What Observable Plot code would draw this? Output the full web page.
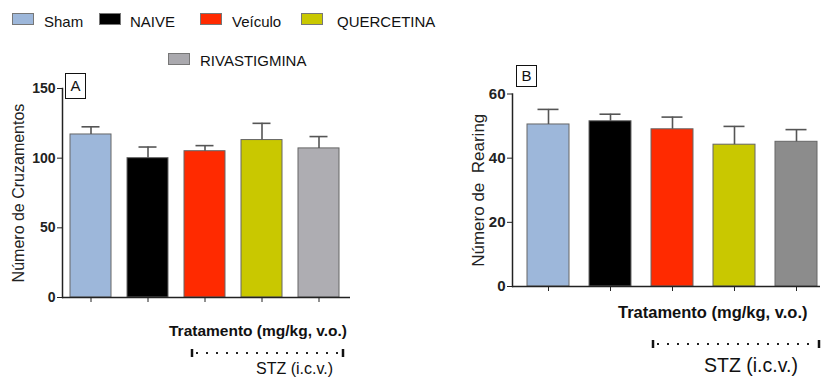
<!DOCTYPE html>
<html>
<head>
<meta charset="utf-8">
<script src="https://cdn.jsdelivr.net/npm/d3@7"></script>
<script src="https://cdn.jsdelivr.net/npm/@observablehq/plot@0.6"></script>
<style>
  html, body { margin: 0; padding: 0; background: #fff; }
  #root { position: relative; width: 824px; height: 380px; overflow: hidden; background: #fff;
          font-family: "Liberation Sans", Arial, Helvetica, sans-serif; color: #111; }
  .abs { position: absolute; }
  .sw { position: absolute; width: 20px; height: 10px; border: 1px solid #777; }
  .lg { position: absolute; font-size: 15px; line-height: 15px; white-space: nowrap; }
  .box { position: absolute; border: 1.5px solid #111; font-size: 15px; text-align: center; box-sizing: border-box; }
  .ann { position: absolute; white-space: nowrap; }
</style>
</head>
<body>
<div id="root"></div>
<script>
// ---- data ----
const categories = ["Sham", "NAIVE", "Veículo", "QUERCETINA", "RIVASTIGMINA"];
const crossMean = [117, 100, 105, 113, 107];
const crossErr = [5.5, 8, 4, 12, 8.5];
const rearMean = [50.5, 51.5, 49, 44.2, 45.1];
const rearErr = [4.7, 2.2, 3.8, 5.7, 3.8];
const colorsA = ["#9db7da", "#000000", "#ff2a00", "#c9c800", "#aeadb2"];
const colorsB = ["#9db7da", "#000000", "#ff2a00", "#c9c800", "#8c8c8c"];
const legendColors = ["#9db7da", "#000000", "#ff2a00", "#c9c800", "#aaa9ae"];
const ticksA = [0, 50, 100, 150];
const ticksB = [0, 20, 40, 60];

const dataA = categories.map((c, i) => ({cat: c, mean: crossMean[i], err: crossErr[i]}));
const dataB = categories.map((c, i) => ({cat: c, mean: rearMean[i], err: rearErr[i]}));

const root = document.getElementById("root");
const FONT = "'Liberation Sans', Arial, Helvetica, sans-serif";

function panel(data, opts) {
  return Plot.plot({
    width: opts.width, height: 380,
    marginLeft: opts.ml, marginRight: opts.mr, marginTop: opts.mt, marginBottom: opts.mb,
    style: {background: "transparent", fontFamily: FONT, color: "#222"},
    x: {domain: categories, range: opts.xrange, paddingInner: opts.pi, paddingOuter: 0},
    y: {domain: opts.ydomain},
    color: {domain: categories, range: opts.colors},
    marks: [
      Plot.barY(data, {x: "cat", y: "mean", fill: "cat", stroke: "#666", strokeWidth: 1}),
      Plot.ruleX(data, {x: "cat", y1: "mean", y2: d => d.mean + d.err, stroke: "#555", strokeWidth: 1.6}),
      Plot.tickY(data, {x: "cat", y: d => d.mean + d.err, insetLeft: opts.capInset, insetRight: opts.capInset, stroke: "#555", strokeWidth: 1.6}),
      Plot.axisX({tickSize: 5, tickFormat: () => "", label: null, color: "#222"}),
      Plot.axisY({ticks: opts.ticks, tickSize: 5, tickPadding: 2, label: null, fontSize: opts.tickFont, fontWeight: "bold", color: "#222"}),
      Plot.text([opts.ylabel], {text: d => d, frameAnchor: "left", dx: -opts.labelOff, rotate: -90, fontSize: opts.labelFont, textAnchor: "middle", lineAnchor: "middle", fill: "#222"}),
      Plot.ruleY([0], {stroke: "#222", strokeWidth: 1.5}),
      Plot.frame({anchor: "left", stroke: "#222", strokeWidth: 1.5})
    ]
  });
}

const A = panel(dataA, {
  width: 360, ml: 62, mr: 10, mt: 88, mb: 83,
  xrange: [69, 339], pi: 0.287, ydomain: [0, 150], ticks: ticksA,
  colors: colorsA, capInset: 11.5, tickFont: 14,
  ylabel: "Número de Cruzamentos", labelOff: 44, labelFont: 16
});
A.style.position = "absolute"; A.style.left = "0px"; A.style.top = "0px";
root.appendChild(A);

const B = panel(dataB, {
  width: 412, ml: 100, mr: 4, mt: 93.5, mb: 94,
  xrange: [114.7, 405], pi: 0.33, ydomain: [0, 60], ticks: ticksB,
  colors: colorsB, capInset: 10.5, tickFont: 15,
  ylabel: "Número de  Rearing", labelOff: 34, labelFont: 17
});
B.style.position = "absolute"; B.style.left = "412px"; B.style.top = "0px";
root.appendChild(B);

// ---- legend ----
const legendPos = [
  {sx: 12, sy: 13, tx: 44, ty: 14},
  {sx: 99, sy: 13, tx: 130, ty: 14},
  {sx: 200, sy: 13, tx: 232, ty: 14},
  {sx: 301, sy: 13, tx: 337, ty: 14},
  {sx: 168, sy: 53, tx: 200, ty: 53}
];
categories.forEach((c, i) => {
  const p = legendPos[i];
  const s = document.createElement("div");
  s.className = "sw"; s.style.left = p.sx + "px"; s.style.top = p.sy + "px";
  s.style.background = legendColors[i];
  root.appendChild(s);
  const t = document.createElement("div");
  t.className = "lg"; t.style.left = p.tx + "px"; t.style.top = p.ty + "px";
  t.textContent = c;
  root.appendChild(t);
});

// ---- panel letters ----
function box(letter, x, y, w, h) {
  const b = document.createElement("div");
  b.className = "box";
  b.style.left = x + "px"; b.style.top = y + "px"; b.style.width = w + "px"; b.style.height = h + "px";
  b.style.lineHeight = (h - 3) + "px";
  b.textContent = letter;
  root.appendChild(b);
}
box("A", 65, 73, 21, 26);
box("B", 516, 65, 21, 22);

// ---- bottom annotations ----
function ann(text, x, y, size, weight) {
  const d = document.createElement("div");
  d.className = "ann";
  d.style.left = x + "px"; d.style.top = y + "px";
  d.style.fontSize = size + "px"; d.style.fontWeight = weight;
  d.textContent = text;
  root.appendChild(d);
}
ann("Tratamento (mg/kg, v.o.)", 169, 322, 15.5, "bold");
ann("STZ (i.c.v.)", 256, 360, 16, "normal");
ann("Tratamento (mg/kg, v.o.)", 618, 303, 16.5, "bold");
ann("STZ (i.c.v.)", 704, 354, 19.5, "normal");

const svgNS = "http://www.w3.org/2000/svg";
const ov = document.createElementNS(svgNS, "svg");
ov.setAttribute("width", 824); ov.setAttribute("height", 380);
ov.style.position = "absolute"; ov.style.left = "0"; ov.style.top = "0";
function dotted(x1, x2, y) {
  const l = document.createElementNS(svgNS, "line");
  l.setAttribute("x1", x1 + 4); l.setAttribute("x2", x2 - 3);
  l.setAttribute("y1", y); l.setAttribute("y2", y);
  l.setAttribute("stroke", "#222"); l.setAttribute("stroke-width", 2);
  l.setAttribute("stroke-dasharray", "2 8");
  ov.appendChild(l);
  [x1, x2].forEach(x => {
    const c = document.createElementNS(svgNS, "line");
    c.setAttribute("x1", x); c.setAttribute("x2", x);
    c.setAttribute("y1", y - 4); c.setAttribute("y2", y + 4);
    c.setAttribute("stroke", "#111"); c.setAttribute("stroke-width", 2.5);
    ov.appendChild(c);
  });
}
dotted(192, 343, 353);
dotted(653, 819, 344);
root.appendChild(ov);
</script>
</body>
</html>
